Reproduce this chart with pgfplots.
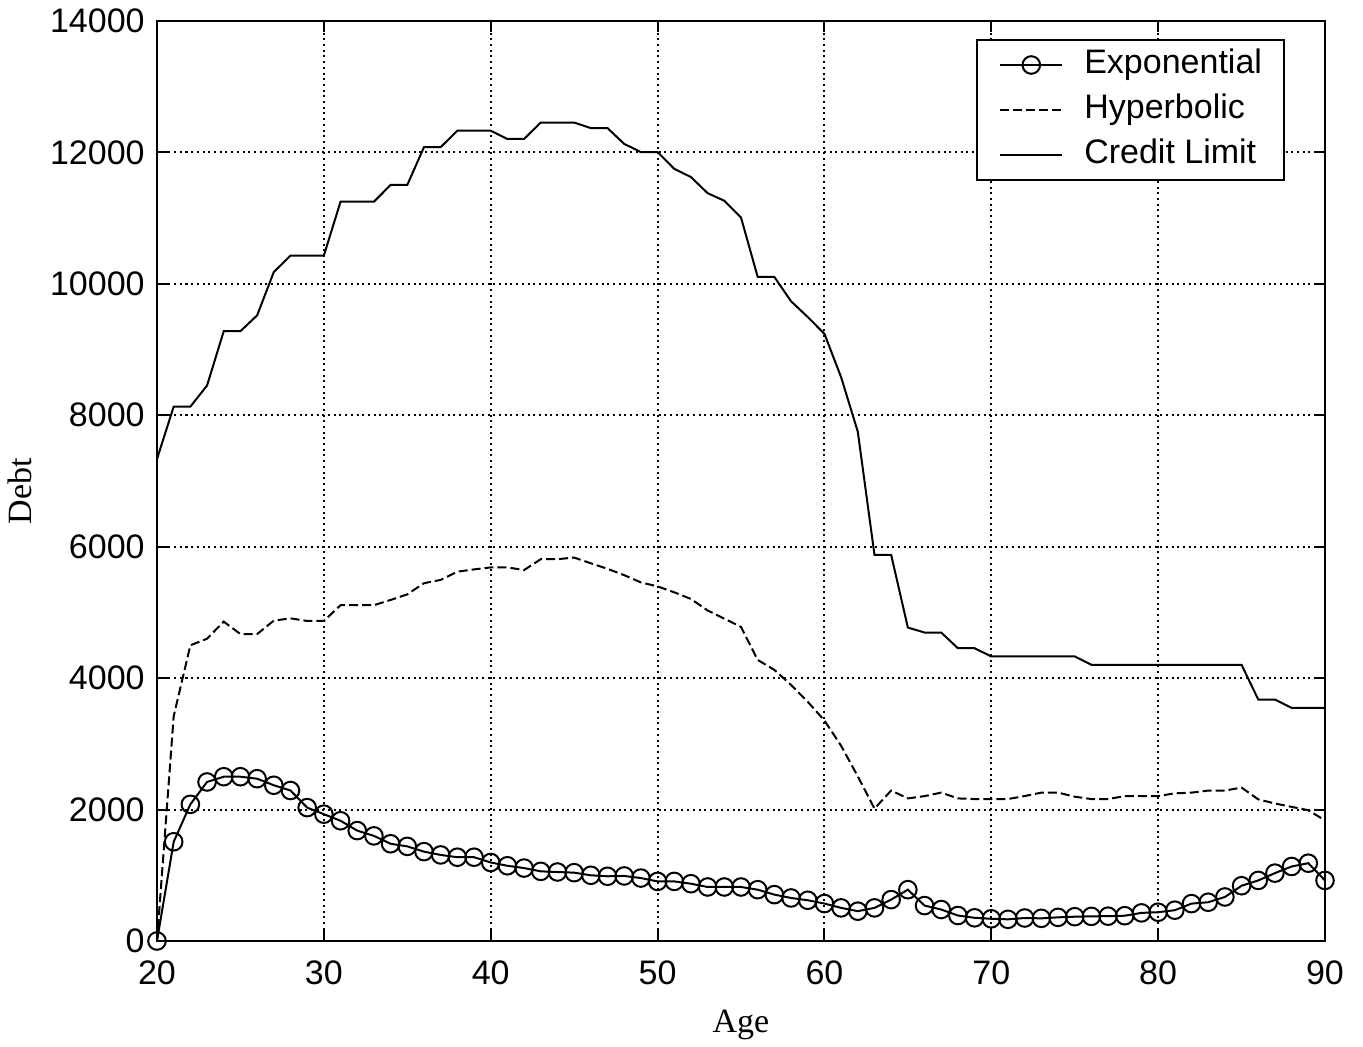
\documentclass[border=0pt]{standalone}
\usepackage{pgfplots}
\pgfplotsset{compat=1.18}
\usepackage{fontspec}
\setmainfont{Liberation Serif}
\newfontfamily\arialf{Liberation Sans}

\begin{document}
\begin{tikzpicture}
\begin{axis}[
  scale only axis,
  width=584pt, height=460pt,
  xmin=20, xmax=90, ymin=0, ymax=14000,
  xtick={20,30,...,90},
  ytick={0,2000,...,14000},
  scaled ticks=false,
  /pgf/number format/assume math mode=true,
  /pgf/number format/1000 sep={},
  ticklabel style={font=\arialf\fontsize{17}{17}\selectfont},
  xticklabel style={anchor=north, inner sep=0pt, yshift=-9.5pt},
  yticklabel style={anchor=east, inner sep=0pt, xshift=-6pt},
  tick align=inside,
  major tick length=5.5pt,
  tick style={black, line width=1pt},
  axis line style={black, line width=1.3pt},
  grid=major,
  major grid style={black, line width=1pt, dash pattern=on 1pt off 1.85pt},
  xlabel={Age},
  ylabel={Debt},
  label style={font=\fontsize{17}{17}\selectfont},
  xlabel style={at={(axis description cs:0.5,0)}, anchor=base, yshift=-45.5pt},
  ylabel style={at={(axis description cs:-0.1173,0.489)}, anchor=center},
  clip mode=individual,
  legend cell align=left,
  legend style={at={(1,1)}, anchor=north east, xshift=-20pt, yshift=-9pt,
    draw=black, line width=1pt, fill=white,
    font=\arialf\fontsize{17}{17}\selectfont,
    inner xsep=11pt, inner ysep=3.25pt, row sep=4pt, column sep=10.5pt,
    nodes={inner xsep=0pt, inner ysep=1pt, text height=12.5pt, text depth=4pt}},
  legend image code/.code={\draw[mark repeat=2,mark phase=2,#1] plot coordinates {(0pt,0pt) (15.5pt,0pt) (31pt,0pt)};},
]
\addplot[black, line width=1pt, mark=o, mark size=4.4pt, mark options={solid, line width=1pt, fill=none}] coordinates {
(20,0) (21,1510) (22,2080) (23,2420) (24,2500) (25,2500) (26,2470) (27,2370) (28,2290) (29,2030)
(30,1930) (31,1830) (32,1680) (33,1600) (34,1480) (35,1440) (36,1360) (37,1310) (38,1275) (39,1275)
(40,1195) (41,1145) (42,1110) (43,1060) (44,1050) (45,1040) (46,1000) (47,985) (48,990) (49,958)
(50,907) (51,907) (52,872) (53,822) (54,822) (55,822) (56,781) (57,706) (58,655) (59,620)
(60,570) (61,504) (62,454) (63,504) (64,630) (65,781) (66,539) (67,479) (68,388) (69,353)
(70,338) (71,330) (72,350) (73,345) (74,360) (75,370) (76,375) (77,378) (78,385) (79,428)
(80,438) (81,469) (82,569) (83,590) (84,670) (85,841) (86,922) (87,1033) (88,1134) (89,1184)
(90,922)
};
\addlegendentry{Exponential}
\addplot[black, line width=1pt, dash pattern=on 4.5pt off 2pt] coordinates {
(20,0) (21,3420) (22,4500) (23,4600) (24,4860) (25,4670) (26,4670) (27,4875) (28,4910) (29,4870)
(30,4870) (31,5110) (32,5110) (33,5110) (34,5190) (35,5275) (36,5445) (37,5495) (38,5620) (39,5655)
(40,5685) (41,5685) (42,5645) (43,5810) (44,5810) (45,5835) (46,5748) (47,5664) (48,5567) (49,5457)
(50,5396) (51,5306) (52,5205) (53,5030) (54,4905) (55,4780) (56,4277) (57,4126) (58,3897) (59,3640)
(60,3356) (61,2970) (62,2506) (63,2015) (64,2290) (65,2170) (66,2205) (67,2258) (68,2170) (69,2160)
(70,2160) (71,2160) (72,2206) (73,2258) (74,2258) (75,2196) (76,2160) (77,2160) (78,2206) (79,2206)
(80,2206) (81,2247) (82,2258) (83,2289) (84,2289) (85,2335) (86,2155) (87,2093) (88,2041) (89,1990)
(90,1835)
};
\addlegendentry{Hyperbolic}
\addplot[black, line width=1pt] coordinates {
(20,7335) (21,8132) (22,8132) (23,8453) (24,9280) (25,9280) (26,9520) (27,10180) (28,10430) (29,10430)
(30,10430) (31,11250) (32,11250) (33,11250) (34,11505) (35,11505) (36,12080) (37,12080) (38,12330) (39,12330)
(40,12330) (41,12205) (42,12205) (43,12455) (44,12455) (45,12455) (46,12370) (47,12370) (48,12130) (49,12005)
(50,12005) (51,11750) (52,11625) (53,11380) (54,11265) (55,11010) (56,10105) (57,10105) (58,9735) (59,9495)
(60,9240) (61,8580) (62,7750) (63,5875) (64,5875) (65,4770) (66,4694) (67,4694) (68,4455) (69,4455)
(70,4330) (71,4330) (72,4330) (73,4330) (74,4330) (75,4330) (76,4203) (77,4203) (78,4203) (79,4203)
(80,4203) (81,4203) (82,4203) (83,4203) (84,4203) (85,4203) (86,3675) (87,3675) (88,3547) (89,3547)
(90,3547)
};
\addlegendentry{Credit Limit}
\end{axis}
\path (-78.5pt,-50.5pt) rectangle (603pt,470.5pt);
\end{tikzpicture}
\end{document}
